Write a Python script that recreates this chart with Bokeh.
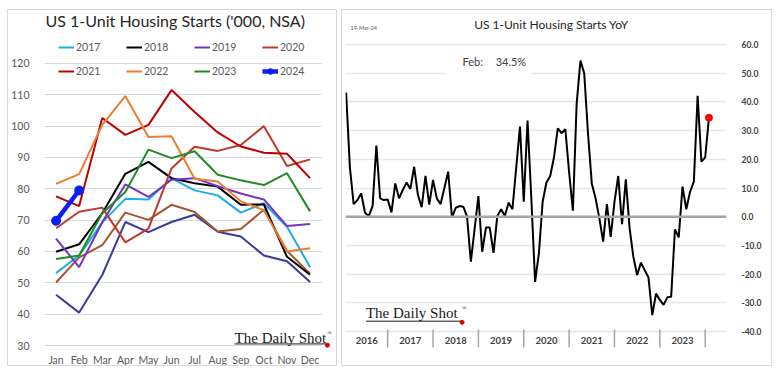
from bokeh.plotting import figure
from bokeh.models import (Range1d, FixedTicker, Legend, LegendItem, Label,
                          Span, NumeralTickFormatter)
from bokeh.layouts import row
from bokeh.embed import file_html
from bokeh.resources import INLINE
from bokeh.core.properties import value

# ---------------- data: left panel (thousand units, NSA) ----------------
months = ["Jan", "Feb", "Mar", "Apr", "May", "Jun",
          "Jul", "Aug", "Sep", "Oct", "Nov", "Dec"]

starts_2015 = [46.2, 40.5, 52.5, 69.4, 66.2, 69.4, 71.7, 66.3, 64.8, 58.7, 56.9, 50.3]
starts_2016 = [50.1, 58.1, 62.0, 72.4, 70.1, 74.9, 72.6, 66.4, 67.2, 73.3, 60.2, 52.9]
starts_2017 = [53.1, 58.7, 69.3, 76.8, 76.6, 83.3, 79.5, 77.9, 72.4, 75.4, 67.9, 55.0]
starts_2018 = [59.9, 62.3, 72.2, 84.8, 88.6, 83.4, 81.8, 80.7, 74.9, 75.0, 58.3, 52.6]
starts_2019 = [64.1, 55.0, 69.3, 81.4, 77.4, 82.9, 83.4, 80.8, 78.5, 76.6, 68.1, 68.8]
starts_2020 = [67.4, 72.7, 74.0, 62.9, 67.3, 86.5, 93.4, 92.1, 94.0, 100.0, 87.3, 89.4]
starts_2021 = [77.6, 74.5, 102.6, 97.2, 100.4, 111.5, 104.5, 98.0, 93.5, 91.5, 91.2, 83.4]
starts_2022 = [81.6, 84.7, 100.4, 109.6, 96.5, 96.8, 83.2, 82.3, 76.0, 73.2, 60.0, 61.0]
starts_2023 = [57.6, 58.7, 72.2, 79.0, 92.5, 89.8, 92.0, 84.5, 82.7, 81.2, 85.0, 72.8]
starts_2024 = [69.8, 79.5]

legend_years = ["2017", "2018", "2019", "2020", "2021", "2022", "2023", "2024"]
left_ticks = [30, 40, 50, 60, 70, 80, 90, 100, 110, 120]

# ---------------- data: right panel (YoY %) ----------------
yoy_2016 = [43.3, 17.2, 4.4, 5.8, 8.1, 1.4, 0.2, 3.7, 24.8, 6.4, 5.8]   # Feb-Dec
yoy_2017 = [6.0, 1.5, 11.6, 6.4, 9.3, 11.9, 9.7, 17.4, 7.6, 3.3, 14.2, 4.2]
yoy_2018 = [12.8, 6.4, 4.4, 10.0, 15.7, -0.2, 3.1, 3.7, 3.5, 0.0, -15.7, -4.2]
yoy_2019 = [7.2, -12.2, -3.8, -3.8, -12.6, 0.2, 2.6, 0.3, 4.9, 2.6, 17.0, 31.4]
yoy_2020 = [5.2, 33.5, 6.5, -22.7, -12.8, 5.2, 11.9, 14.2, 20.7, 30.8, 29.1, 30.5]
yoy_2021 = [15.5, 2.1, 39.5, 54.4, 50.0, 29.0, 11.6, 6.4, -0.5, -8.7, 4.4, -7.0]
yoy_2022 = [5.2, 14.2, -2.6, 13.0, -4.0, -14.0, -20.3, -16.0, -18.6, -21.2, -34.3, -26.8]
yoy_2023 = [-29.0, -30.7, -28.1, -27.9, -4.4, -7.2, 10.5, 2.6, 8.7, 12.2, 42.1, 19.2]
yoy_2024 = [20.7, 34.5]   # Jan-Feb

year_labels = ["2016", "2017", "2018", "2019", "2020", "2021", "2022", "2023"]
right_ticks = [-40, -30, -20, -10, 0, 10, 20, 30, 40, 50, 60]

FONT = "Lato"
GREY_TXT = "#595959"

# =================== LEFT PANEL ===================
left = figure(width=330, height=357, title=None,
              x_range=Range1d(-0.5, 12.23), y_range=Range1d(22.98, 136.9),
              output_backend="svg", toolbar_location=None,
              x_axis_location=None,
              min_border_left=33, min_border_right=0,
              min_border_top=0, min_border_bottom=0,
              margin=(9, 0, 0, 7),
              styles={"border": "1px solid #d9d9d9"})
left.outline_line_color = None
left.yaxis.ticker = FixedTicker(ticks=left_ticks)
left.yaxis.axis_line_color = None
left.yaxis.major_tick_line_color = None
left.yaxis.minor_tick_line_color = None
left.yaxis.major_label_text_font = FONT
left.yaxis.major_label_text_font_size = "10.5px"
left.yaxis.major_label_text_color = GREY_TXT
left.yaxis.major_label_standoff = 9
left.xgrid.grid_line_color = None
left.ygrid.grid_line_color = "#d9d9d9"
left.ygrid.grid_line_width = 1

# keep gridlines from running past December (panel margin)
left.quad(left=11.5, right=12.4, bottom=22.0, top=137.5, color="white", line_color=None)

# month tick labels under the 30 line
left.text(x=list(range(len(months))), y=[25.5] * len(months), text=months,
          text_align="center", text_baseline="middle", text_font=value(FONT),
          text_font_size="10.5px", text_color=GREY_TXT)

series = [
    (None, starts_2015, "#3B3A98", 2),
    (None, starts_2016, "#A5572B", 2),
    ("2017", starts_2017, "#1BAEE6", 2),
    ("2018", starts_2018, "#000000", 2),
    ("2019", starts_2019, "#7433C6", 2),
    ("2020", starts_2020, "#C0392B", 2),
    ("2021", starts_2021, "#C00000", 2),
    ("2022", starts_2022, "#ED7D31", 2),
    ("2023", starts_2023, "#1F8B24", 2),
]
rends = {}
for name, vals, color, w in series:
    r = left.line(x=list(range(len(vals))), y=vals, line_color=color, line_width=w)
    if name:
        rends[name] = [r]
r24 = left.line(x=list(range(len(starts_2024))), y=starts_2024, line_color="#0A1EF5", line_width=4.5)
s24 = left.scatter(x=list(range(len(starts_2024))), y=starts_2024, size=9, color="#0A1EF5")
rends["2024"] = [r24, s24]


def make_legend(names, loc):
    return Legend(items=[LegendItem(label=n, renderers=rends[n]) for n in names],
                  orientation="horizontal", location=loc,
                  margin=0, padding=6, spacing=24,
                  glyph_width=16, glyph_height=14, label_height=14, label_width=26,
                  label_standoff=2, border_line_color=None,
                  background_fill_color="white", background_fill_alpha=1.0,
                  label_text_font=FONT, label_text_font_size="10.5px",
                  label_text_color=GREY_TXT)


left.add_layout(make_legend(legend_years[:4], (14, 313)))
left.add_layout(make_legend(legend_years[4:], (14, 289)))

left.add_layout(Label(x=5.16, y=133.6, text="US 1-Unit Housing Starts ('000, NSA)",
                      text_align="center", text_baseline="middle",
                      text_font=FONT, text_font_size="16px", text_color="#262626"))

# logo
left.add_layout(Label(x=7.73, y=32.4, text="The Daily Shot", text_align="left",
                      text_baseline="middle", text_font="Liberation Serif",
                      text_font_size="15px", text_color="#1a1a1a"))
left.add_layout(Label(x=11.74, y=34.0, text="®", text_align="left",
                      text_baseline="middle", text_font="Liberation Serif",
                      text_font_size="6px", text_color="#1a1a1a"))
left.segment(x0=[7.73], y0=[30.5], x1=[11.72], y1=[30.5], line_color="#1a1a1a", line_width=1)
left.scatter(x=[11.75], y=[30.1], size=4, color="#E00000")

# =================== RIGHT PANEL ===================
right = figure(width=431, height=357, title=None,
               x_range=Range1d(2016.07, 2024.47), y_range=Range1d(-52.54, 71.85),
               output_backend="svg", toolbar_location=None,
               x_axis_location=None, y_axis_location="right",
               min_border_left=3, min_border_right=47,
               min_border_top=0, min_border_bottom=0,
               margin=(9, 0, 0, 4),
               styles={"border": "1px solid #d9d9d9"})
right.outline_line_color = None
right.xgrid.grid_line_color = None
right.yaxis.ticker = FixedTicker(ticks=right_ticks)
right.yaxis.formatter = NumeralTickFormatter(format="0.0")
right.yaxis.axis_line_color = None
right.yaxis.major_tick_line_color = None
right.yaxis.minor_tick_line_color = None
right.yaxis.major_label_standoff = 9
right.yaxis.major_label_text_font = FONT
right.yaxis.major_label_text_font_size = "8.5px"
right.yaxis.major_label_text_font_style = "bold"
right.yaxis.major_label_text_color = "#404040"
right.ygrid.grid_line_color = "#e6e6e6"
right.ygrid.grid_line_width = 1.5

right.add_layout(Span(location=0, dimension="width", line_color="#a6a6a6", line_width=2.5))

# white box behind annotation (breaks the 50 gridline)
right.quad(left=2018.28, right=2020.17, bottom=48.3, top=51.7, color="white", line_color=None)

yoy_x, yoy_y = [], []
for yr, vals in [(2016, yoy_2016), (2017, yoy_2017), (2018, yoy_2018), (2019, yoy_2019),
                 (2020, yoy_2020), (2021, yoy_2021), (2022, yoy_2022), (2023, yoy_2023),
                 (2024, yoy_2024)]:
    first_month = 13 - len(vals) if yr == 2016 else 1
    for k, v in enumerate(vals):
        yoy_x.append(yr + (first_month - 1 + k) / 12)
        yoy_y.append(v)

right.line(x=yoy_x, y=yoy_y, line_color="black", line_width=2)
right.scatter(x=[yoy_x[-1]], y=[yoy_y[-1]], size=7, color="#FF0000")

# year labels and separators
sep_x = [int(y) + 1 for y in year_labels]
lab_x = [int(y) + 0.5 for y in year_labels]
lab_x[0] = 2016.54
right.segment(x0=sep_x, y0=[-39.3] * len(sep_x), x1=sep_x, y1=[-45.6] * len(sep_x),
              line_color="#a6a6a6", line_width=1.5)
right.text(x=lab_x, y=[-43.0] * len(lab_x), text=year_labels, text_align="center",
           text_baseline="middle", text_font=value(FONT), text_font_size="9.5px",
           text_font_style="bold", text_color="#404040")

right.add_layout(Label(x=2020.61, y=66.8, text="US 1-Unit Housing Starts YoY",
                       text_align="center", text_baseline="middle",
                       text_font=FONT, text_font_size="12px", text_color="#262626"))
right.add_layout(Label(x=2016.18, y=65.7, text="19-Mar-24", text_align="left",
                       text_baseline="middle", text_font=FONT, text_font_size="5.5px",
                       text_color="#595959"))
right.add_layout(Label(x=2018.65, y=54.0, text="Feb:", text_align="left",
                       text_baseline="middle", text_font=FONT, text_font_size="11px",
                       text_color="#404040"))
right.add_layout(Label(x=2019.38, y=54.0, text="34.5%", text_align="left",
                       text_baseline="middle", text_font=FONT, text_font_size="11px",
                       text_color="#404040"))

# logo
right.add_layout(Label(x=2016.52, y=-33.7, text="The Daily Shot", text_align="left",
                       text_baseline="middle", text_font="Liberation Serif",
                       text_font_size="15px", text_color="#1a1a1a"))
right.add_layout(Label(x=2018.64, y=-31.8, text="®", text_align="left",
                       text_baseline="middle", text_font="Liberation Serif",
                       text_font_size="6px", text_color="#1a1a1a"))
right.segment(x0=[2016.52], y0=[-36.4], x1=[2018.63], y1=[-36.4], line_color="#1a1a1a", line_width=1)
right.scatter(x=[2018.64], y=[-36.8], size=4, color="#E00000")

layout = row(left, right)
open("out.html", "w").write(file_html(layout, INLINE))
